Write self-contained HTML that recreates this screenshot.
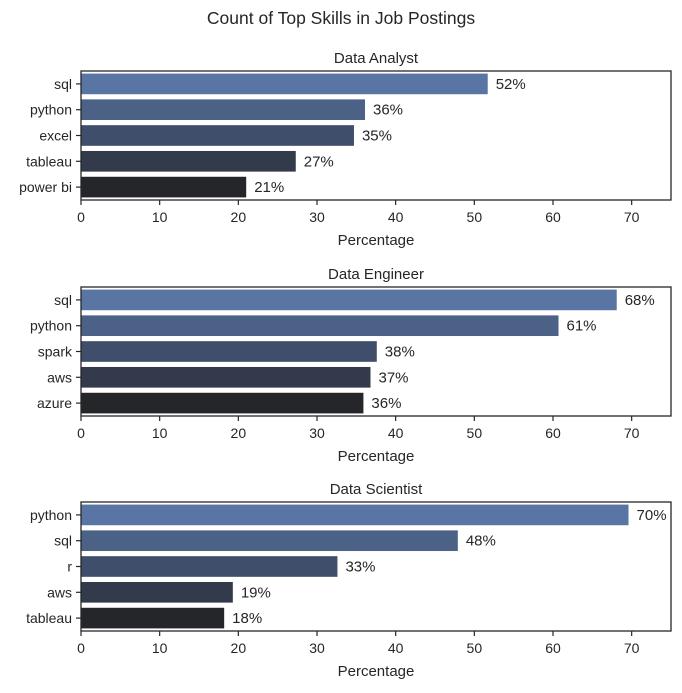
<!DOCTYPE html>
<html><head><meta charset="utf-8"><style>
body{margin:0;background:#fff;font-family:"Liberation Sans","DejaVu Sans",sans-serif}
svg text{fill:#262626}
</style></head><body>
<svg id="c" width="682" height="688" xmlns="http://www.w3.org/2000/svg">
<text x="341" y="24" text-anchor="middle" font-size="17.5">Count of Top Skills in Job Postings</text>
</svg>
<script>
const titles=["Data Analyst","Data Engineer","Data Scientist"];
const skillsDA=["sql","python","excel","tableau","power bi"];
const valuesDA=[51.7,36.1,34.7,27.3,21.0];
const skillsDE=["sql","python","spark","aws","azure"];
const valuesDE=[68.1,60.7,37.6,36.8,35.9];
const skillsDS=["python","sql","r","aws","tableau"];
const valuesDS=[69.6,47.9,32.6,19.3,18.2];
const ticks=[0,10,20,30,40,50,60,70];
const colors=["#5875a4","#4c6186","#3f4e6b","#323a4b","#25262a"];
const svg=document.getElementById('c');
const NS="http://www.w3.org/2000/svg";
function mk(t,a,txt){const e=document.createElementNS(NS,t);for(const k in a)e.setAttribute(k,a[k]);if(txt!=null)e.textContent=txt;svg.appendChild(e);return e;}
const L=81,R=671,xmax=75;
const xs=v=>L+v/xmax*(R-L);
const tops=[71,287,502],H=129;
const sets=[[skillsDA,valuesDA],[skillsDE,valuesDE],[skillsDS,valuesDS]];
sets.forEach(([sk,vals],p)=>{
 const T=tops[p],B=T+H,slot=H/sk.length;
 let e=mk('text',{x:(L+R)/2,y:T-8,'text-anchor':'middle','font-size':15},titles[p]);
 
 
 sk.forEach((s,i)=>{
  const cy=T+slot*(i+0.5),h=slot*0.8;
  let r=mk('rect',{x:L,y:cy-h/2,width:xs(vals[i])-L,height:h,fill:colors[i]});
  
  
  let lb=mk('text',{x:xs(vals[i])+8,y:cy+5,'font-size':15},Math.round(vals[i])+'%');
  
  
  mk('line',{x1:L-5,x2:L,y1:cy,y2:cy,stroke:'#262626','stroke-width':1.2});
  let yl=mk('text',{x:L-9,y:cy+5,'text-anchor':'end','font-size':14},s);
  
  
 });
 let fr=mk('rect',{x:L,y:T,width:R-L,height:H,fill:'none',stroke:'#262626','stroke-width':1.3});
 
 
 ticks.forEach(t=>{
  mk('line',{x1:xs(t),x2:xs(t),y1:B,y2:B+5,stroke:'#262626','stroke-width':1.2});
  let tl=mk('text',{x:xs(t),y:B+22,'text-anchor':'middle','font-size':14},t);
  
  
 });
 let xt=mk('text',{x:(L+R)/2,y:B+45,'text-anchor':'middle','font-size':15},'Percentage');
 
 
});
</script>
</body></html>
